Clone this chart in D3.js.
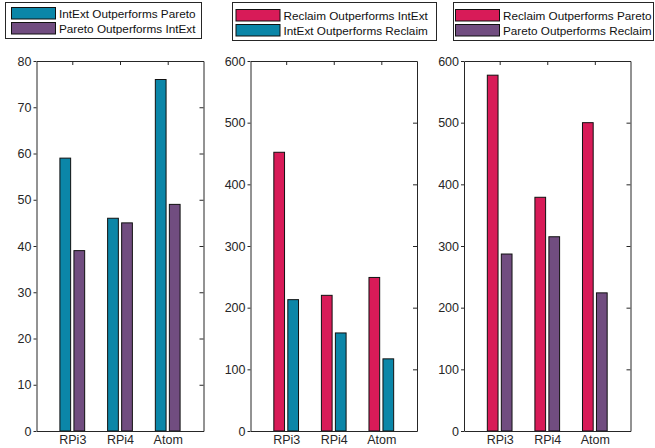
<!DOCTYPE html>
<html>
<head>
<meta charset="utf-8">
<script src="https://cdn.jsdelivr.net/npm/d3@7"></script>
<style>
  html, body { margin: 0; padding: 0; background: #fff; }
  svg { display: block; font-family: "Liberation Sans", Arial, Helvetica, sans-serif; }
</style>
</head>
<body>
<svg id="chart" width="655" height="448"></svg>
<script>
// Platforms compared in every panel
const categories = ["RPi3", "RPi4", "Atom"];

// Panel 1: IntExt vs Pareto
const intExtOverPareto = [59, 46, 76];
const paretoOverIntExt = [39, 45, 49];
const ticksPanel1 = [0, 10, 20, 30, 40, 50, 60, 70, 80];

// Panel 2: Reclaim vs IntExt
const reclaimOverIntExt = [452, 220, 249];
const intExtOverReclaim = [213, 159, 117];
const ticksPanel2 = [0, 100, 200, 300, 400, 500, 600];

// Panel 3: Reclaim vs Pareto
const reclaimOverPareto = [577, 379, 500];
const paretoOverReclaim = [287, 315, 224];
const ticksPanel3 = [0, 100, 200, 300, 400, 500, 600];

const TEAL = "#0b86a8";
const CRIMSON = "#d81b58";
const PURPLE = "#714d80";

const panels = [
  { left: 36.5, right: 203.5, ticks: ticksPanel1,
    series: [
      { name: "IntExt Outperforms Pareto", values: intExtOverPareto, color: TEAL },
      { name: "Pareto Outperforms IntExt", values: paretoOverIntExt, color: PURPLE }
    ],
    legend: { x: 5.5, y: 2.5, w: 196, h: 36, sx: 11, sy: 7 } },
  { left: 250.5, right: 417, ticks: ticksPanel2,
    series: [
      { name: "Reclaim Outperforms IntExt", values: reclaimOverIntExt, color: CRIMSON },
      { name: "IntExt Outperforms Reclaim", values: intExtOverReclaim, color: TEAL }
    ],
    legend: { x: 232.5, y: 2.5, w: 204, h: 38, sx: 235.5, sy: 9 } },
  { left: 464, right: 630.5, ticks: ticksPanel3,
    series: [
      { name: "Reclaim Outperforms Pareto", values: reclaimOverPareto, color: CRIMSON },
      { name: "Pareto Outperforms Reclaim", values: paretoOverReclaim, color: PURPLE }
    ],
    legend: { x: 453.5, y: 2.5, w: 200, h: 38, sx: 455, sy: 9 } }
];

const svg = d3.select("#chart");
const plotTop = 61, plotBottom = 431;
const AXIS = "#262626";
const FONT = "Liberation Sans, Arial, sans-serif";

panels.forEach(p => {
  const g = svg.append("g");
  const x = d3.scaleLinear().domain([0.25, 3.75]).range([p.left, p.right]);
  const yMax = p.ticks[p.ticks.length - 1];
  const y = d3.scaleLinear().domain([0, yMax]).range([plotBottom, plotTop]);

  const offset = 0.147, bw = 0.225;

  // bars
  p.series.forEach((s, si) => {
    const dx = si === 0 ? -offset : offset;
    g.selectAll(null)
      .data(s.values)
      .enter().append("rect")
      .attr("x", (d, i) => x(i + 1 + dx) - (x(bw) - x(0)) / 2)
      .attr("width", x(bw) - x(0))
      .attr("y", d => y(d))
      .attr("height", d => y(0) - y(d))
      .attr("fill", s.color)
      .attr("stroke", "#111")
      .attr("stroke-width", 1);
  });

  // box axes: short outer ticks on the left, inward ticks on top and right
  const yAxisL = d3.axisLeft(y).tickValues(p.ticks).tickSizeInner(3).tickSizeOuter(0).tickPadding(2);
  const gl = g.append("g").attr("transform", `translate(${p.left},0)`).call(yAxisL);
  const yAxisR = d3.axisRight(y).tickValues(p.ticks).tickSizeInner(-4).tickSizeOuter(0).tickFormat("");
  const gr = g.append("g").attr("transform", `translate(${p.right},0)`).call(yAxisR);

  const xVals = [1, 2, 3];
  const xAxisB = d3.axisBottom(x).tickValues(xVals).tickSizeInner(0).tickSizeOuter(0)
    .tickPadding(4).tickFormat(d => categories[d - 1]);
  const gb = g.append("g").attr("transform", `translate(0,${plotBottom})`).call(xAxisB);
  const xAxisT = d3.axisTop(x).tickValues(xVals).tickSizeInner(-4).tickSizeOuter(0).tickFormat("");
  const gt = g.append("g").attr("transform", `translate(0,${plotTop})`).call(xAxisT);

  [gl, gr, gb, gt].forEach(a => {
    a.select(".domain").attr("stroke", AXIS).attr("stroke-width", 1);
    a.selectAll(".tick line").attr("stroke", AXIS).attr("stroke-width", 1);
    a.selectAll(".tick text").attr("fill", AXIS).attr("font-size", 12.5)
      .attr("font-family", FONT);
  });

  // legend
  const L = p.legend;
  const lg = g.append("g");
  lg.append("rect").attr("x", L.x).attr("y", L.y).attr("width", L.w).attr("height", L.h)
    .attr("fill", "#fff").attr("stroke", AXIS).attr("stroke-width", 1);
  p.series.forEach((s, si) => {
    const rowY = L.sy + si * 15 + 0.5;
    lg.append("rect").attr("x", L.sx + 0.5).attr("y", rowY)
      .attr("width", 44).attr("height", 11.5)
      .attr("fill", s.color).attr("stroke", "#111").attr("stroke-width", 1);
    const t = lg.append("text").attr("x", L.sx + 48).attr("y", rowY + 10.5)
      .attr("font-size", 11.75).attr("font-family", FONT).attr("fill", "#111")
      .text(s.name);
    // keep the label inside its legend box
    const room = L.x + L.w - 2 - (L.sx + 48);
    const len = t.node().getComputedTextLength();
    if (len > room) t.attr("textLength", room).attr("lengthAdjust", "spacingAndGlyphs");
  });
});
</script>
</body>
</html>
